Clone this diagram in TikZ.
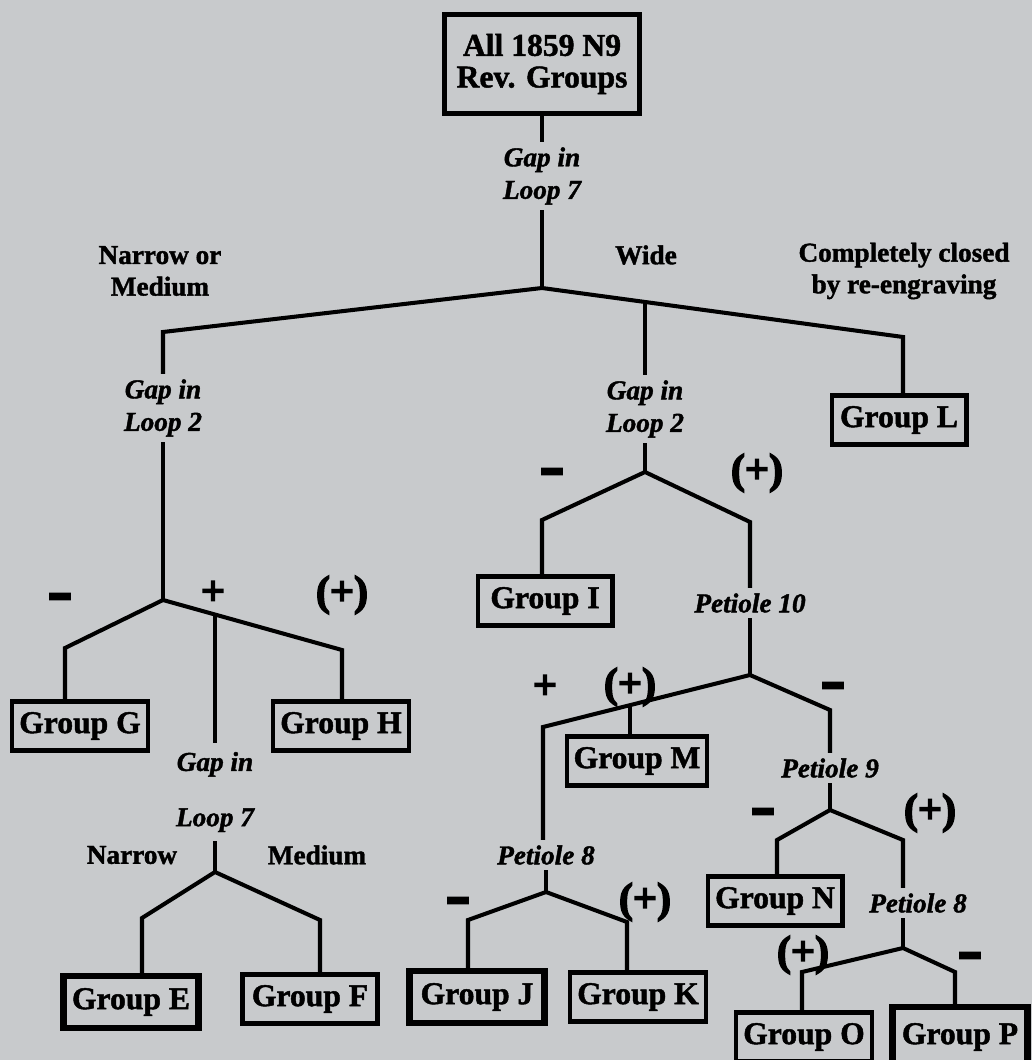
\documentclass[tikz,border=0pt]{standalone}
\usepackage{fontspec}
\setmainfont{Liberation Serif}[BoldFeatures={FakeBold=1.5},BoldItalicFeatures={FakeBold=1.5}]
\newfontfamily\dashfont{DejaVu Sans Bold}[FakeBold=2]
\newfontfamily\plusfont{Liberation Serif Bold}[FakeBold=3.5]
\definecolor{paper}{RGB}{200,202,204}
\tikzset{
	grp/.style={draw, line width=2.3pt, minimum width=2.7cm, minimum height=0.98cm, inner xsep=4pt,
		font=\bfseries\fontsize{18}{20}\selectfont},
	grpheavy/.style={grp, line width=3.6pt, minimum height=1.04cm},
	rootbox/.style={draw, line width=2.8pt, align=center, minimum width=3.9cm, minimum height=1.98cm,
		font=\bfseries\fontsize{18}{18}\selectfont},
	test/.style={align=center, inner sep=3pt, font=\bfseries\itshape\fontsize{15.5}{18.5}\selectfont},
	branch/.style={align=center, font=\bfseries\fontsize{15.5}{18}\selectfont},
	sign/.style={font=\plusfont\fontsize{24}{24}\selectfont},
	minus/.style={font=\dashfont\fontsize{30}{30}\selectfont},
	tree/.style={line width=2.3pt, line join=miter}
}

\begin{document}
\begin{tikzpicture}[x=0.02cm, y=-0.02cm]
	\fill[paper] (0,0) rectangle (1032,1060);
	\useasboundingbox (0,0) rectangle (1032,1060);
	% top level
	\node[rootbox] (root) at (542,64) {All 1859 N9\\Rev. Groups};
	\node[test] (gap7) at (542,176) {Gap in\\Loop 7};
	\node[branch] (narmed) at (160,271) {Narrow or\\Medium};
	\node[branch] (wide) at (646,255) {Wide};
	\node[branch] (closed) at (904,271) {Completely closed\\by re-engraving};
	\coordinate (j0) at (542,288);
	\coordinate (c1) at (163,332);
	\coordinate (m1) at (645,302);
	\coordinate (c3) at (903,337);
	\node[test] (gapA) at (163,408) {Gap in\\Loop 2};
	\node[test] (gapC) at (645,409) {Gap in\\Loop 2};
	\node[grp] (grpL) at (899,420) {Group L};
	\draw[tree] (root) -- (gap7);
	\draw[tree] (gap7) -- (j0);
	\draw[tree] (gapA) -- (c1) -- (j0) -- (c3) -- (c3 |- grpL.north);
	\draw[tree] (m1) -- (gapC);

	% narrow or medium
	\coordinate (jA) at (163,600);
	\coordinate (cG) at (65,648);
	\coordinate (cH) at (342,650);
	\coordinate (pl) at (215,614.5);
	\node[minus] (sA1) at (60,602) {–};
	\node[sign] (sA2) at (213,593) {+};
	\node[sign] (sA3) at (342,595) {(+)};
	\node[grp] (grpG) at (80,726) {Group G};
	\node[grp] (grpH) at (341,726) {Group H};
	\node[test, inner sep=5pt] (gapB) at (215,792) {Gap in\\[13pt]Loop 7};
	\node[branch] (narrow) at (132,855) {Narrow};
	\node[branch] (medium) at (317,855) {Medium};
	\coordinate (jB) at (215,872);
	\coordinate (cE) at (142,918);
	\coordinate (cF) at (320,920);
	\node[grpheavy] (grpE) at (131,1002) {Group E};
	\node[grp] (grpF) at (310,999) {Group F};
	\draw[tree] (gapA) -- (jA);
	\draw[tree] (cG |- grpG.north) -- (cG) -- (jA) -- (cH) -- (cH |- grpH.north);
	\draw[tree] (pl) -- (gapB);
	\draw[tree] (gapB) -- (jB);
	\draw[tree] (cE |- grpE.north) -- (cE) -- (jB) -- (cF) -- (cF |- grpF.north);

	% wide
	\coordinate (jC) at (645,472);
	\coordinate (cI) at (542,520);
	\coordinate (cP10) at (750,522);
	\node[minus] (sC1) at (552,477) {–};
	\node[sign] (sC2) at (757,473) {(+)};
	\node[grp] (grpI) at (545,601) {Group I};
	\node[test] (pet10) at (750,603) {Petiole 10};
	\draw[tree] (gapC) -- (jC);
	\draw[tree] (cI |- grpI.north) -- (cI) -- (jC) -- (cP10) -- (pet10);

	% petiole 10
	\coordinate (jP10) at (750,675);
	\coordinate (c8a) at (543,727);
	\coordinate (pm) at (630,705);
	\coordinate (cP9) at (830,710);
	\node[sign] (sD1) at (545,687) {+};
	\node[sign] (sD2) at (630,687) {(+)};
	\node[minus] (sD3) at (833,691) {–};
	\node[grp] (grpM) at (637,761) {Group M};
	\node[test] (pet8a) at (546,855) {Petiole 8};
	\node[test] (pet9) at (830,768) {Petiole 9};
	\draw[tree] (pet10) -- (jP10);
	\draw[tree] (c8a |- pet8a.north) -- (c8a) -- (jP10) -- (cP9) -- (pet9);
	\draw[tree] (pm) -- (pm |- grpM.north);

	% petiole 8 (left)
	\coordinate (jJK) at (546,892);
	\coordinate (cJ) at (468,920);
	\coordinate (cK) at (627,922);
	\node[minus] (sE1) at (458,906) {–};
	\node[sign] (sE2) at (645,902) {(+)};
	\node[grpheavy] (grpJ) at (477,997) {Group J};
	\node[grp] (grpK) at (638,997) {Group K};
	\draw[tree] (pet8a) -- (jJK);
	\draw[tree] (cJ |- grpJ.north) -- (cJ) -- (jJK) -- (cK) -- (cK |- grpK.north);

	% petiole 9
	\coordinate (jN) at (830,810);
	\coordinate (cN) at (777,840);
	\coordinate (cP8) at (903,840);
	\node[minus] (sF1) at (763,817) {–};
	\node[sign] (sF2) at (930,813) {(+)};
	\node[grp] (grpN) at (775,901) {Group N};
	\node[test] (pet8b) at (918,903) {Petiole 8};
	\draw[tree] (pet9) -- (jN);
	\draw[tree] (cN |- grpN.north) -- (cN) -- (jN) -- (cP8) -- (cP8 |- pet8b.north);

	% petiole 8 (right)
	\coordinate (jOP) at (903,948);
	\coordinate (cO) at (802,972);
	\coordinate (cP) at (955,972);
	\node[sign] (sG1) at (803,955) {(+)};
	\node[minus] (sG2) at (970,961) {–};
	\node[grp] (grpO) at (804,1037) {Group O};
	\node[grpheavy, minimum height=1.2cm] (grpP) at (960,1037) {Group P};
	\draw[tree] (cP8 |- pet8b.south) -- (jOP);
	\draw[tree] (cO |- grpO.north) -- (cO) -- (jOP) -- (cP) -- (cP |- grpP.north);
\end{tikzpicture}
\end{document}
